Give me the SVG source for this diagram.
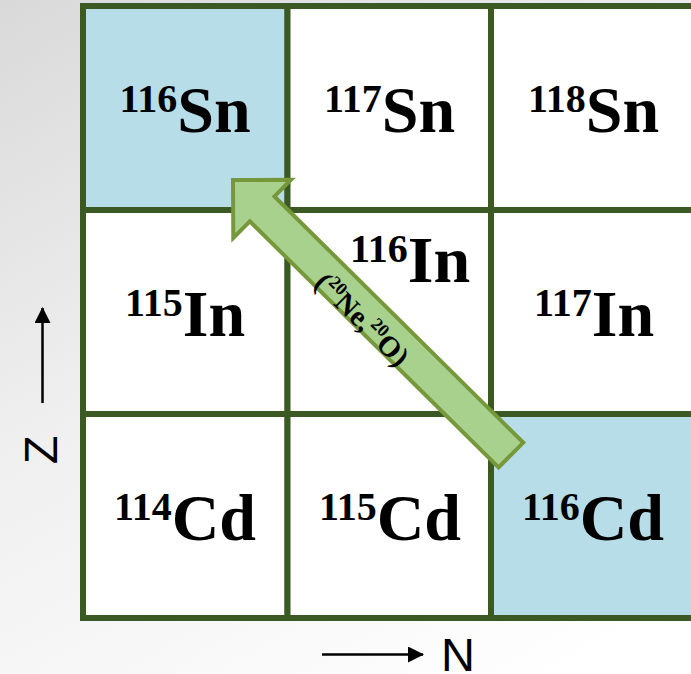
<svg xmlns="http://www.w3.org/2000/svg" width="691" height="674" viewBox="0 0 691 674">
<defs>
<linearGradient id="bg" gradientUnits="userSpaceOnUse" x1="0" y1="0" x2="420" y2="760">
<stop offset="0" stop-color="#d9d9d9"/>
<stop offset="0.45" stop-color="#efefef"/>
<stop offset="1" stop-color="#ffffff"/>
</linearGradient>
<marker id="ah" markerUnits="userSpaceOnUse" markerWidth="16" markerHeight="16" refX="15" refY="8" orient="auto">
<path d="M0,0 L16,8 L0,16 Z" fill="#000"/>
</marker>
<style>
.cell{stroke:#3b5a23;stroke-width:6;}
.w{fill:#ffffff;}
.b{fill:#b7dde8;}
.iso{font-family:"Liberation Serif","Times New Roman",serif;font-weight:bold;font-size:66px;fill:#000;text-anchor:middle;}
.sup{font-size:40px;}
.ax{font-family:"Liberation Sans",Arial,sans-serif;font-size:47px;fill:#000;}
.lbl{font-family:"Liberation Serif","Times New Roman",serif;font-weight:bold;font-size:29px;fill:#000;text-anchor:middle;}
.lsup{font-size:18px;}
</style>
</defs>
<rect x="0" y="0" width="691" height="674" fill="url(#bg)"/>
<g id="cells">
<g id="sn116"><rect class="cell b" x="83" y="6" width="204.5" height="204"/><text class="iso" x="185" y="132"><tspan class="sup" dy="-20">116</tspan><tspan dy="20">Sn</tspan></text></g>
<g id="sn117"><rect class="cell w" x="287.5" y="6" width="203.5" height="204"/><text class="iso" x="389.5" y="132"><tspan class="sup" dy="-20">117</tspan><tspan dy="20">Sn</tspan></text></g>
<g id="sn118"><rect class="cell w" x="491" y="6" width="215" height="204"/><text class="iso" x="593.5" y="132"><tspan class="sup" dy="-20">118</tspan><tspan dy="20">Sn</tspan></text></g>
<g id="in115"><rect class="cell w" x="83" y="210" width="204.5" height="204"/><text class="iso" x="185" y="336"><tspan class="sup" dy="-20">115</tspan><tspan dy="20">In</tspan></text></g>
<g id="in116"><rect class="cell w" x="287.5" y="210" width="203.5" height="204"/><text class="iso" x="410" y="282"><tspan class="sup" dy="-20">116</tspan><tspan dy="20">In</tspan></text></g>
<g id="in117"><rect class="cell w" x="491" y="210" width="215" height="204"/><text class="iso" x="594" y="336"><tspan class="sup" dy="-20">117</tspan><tspan dy="20">In</tspan></text></g>
<g id="cd114"><rect class="cell w" x="83" y="414" width="204.5" height="204"/><text class="iso" x="185" y="540"><tspan class="sup" dy="-20">114</tspan><tspan dy="20">Cd</tspan></text></g>
<g id="cd115"><rect class="cell w" x="287.5" y="414" width="203.5" height="204"/><text class="iso" x="390" y="540"><tspan class="sup" dy="-20">115</tspan><tspan dy="20">Cd</tspan></text></g>
<g id="cd116"><rect class="cell b" x="491" y="414" width="215" height="204"/><text class="iso" x="593" y="540"><tspan class="sup" dy="-20">116</tspan><tspan dy="20">Cd</tspan></text></g>
</g>
<g id="connectors">
<g id="reaction" transform="translate(233,180) rotate(44.7)">
<polygon points="0,0 41,-41 41,-17.5 391,-17.5 391,17.5 41,17.5 41,41" fill="#a9d18e" stroke="#77983a" stroke-width="4" stroke-linejoin="miter"/>
<text class="lbl" x="190" y="18">(<tspan class="lsup" dy="-11">20</tspan><tspan dy="11">Ne,</tspan><tspan class="lsup" dy="-11">20</tspan><tspan dy="11">O)</tspan></text>
</g>
</g>
<g id="axes">
<line x1="42.5" y1="403" x2="42.5" y2="308" stroke="#000" stroke-width="2.5" marker-end="url(#ah)"/>
<text class="ax" text-anchor="middle" transform="translate(57,450) rotate(-90)">Z</text>
<line x1="322" y1="654.5" x2="423" y2="654.5" stroke="#000" stroke-width="2.5" marker-end="url(#ah)"/>
<text class="ax" x="441" y="671">N</text>
</g>
</svg>
